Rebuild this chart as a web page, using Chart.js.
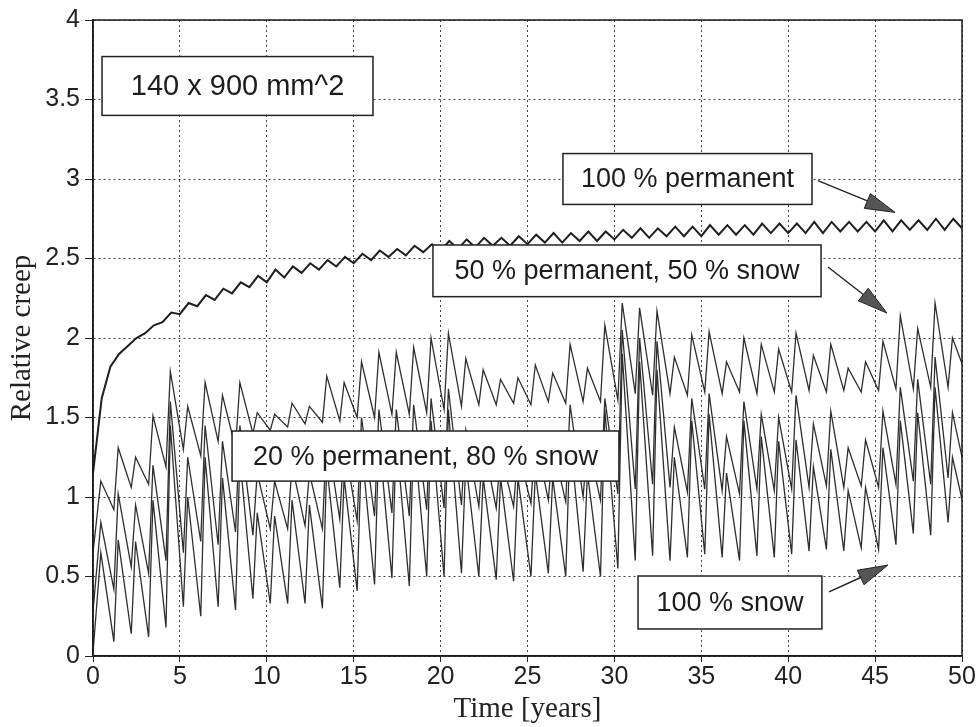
<!DOCTYPE html>
<html>
<head>
<meta charset="utf-8">
<script src="https://cdn.jsdelivr.net/npm/chart.js@4.4.1/dist/chart.umd.min.js"></script>
<style>
  html, body { margin: 0; padding: 0; background: #fff; }
  #wrap { width: 979px; height: 727px; }
</style>
</head>
<body>
<div id="wrap"><canvas id="creep" width="979" height="727"></canvas></div>
<script>
// values read per year: spike value and the low point the year decays to
const xTicks = [0, 5, 10, 15, 20, 25, 30, 35, 40, 45, 50];
const yTicks = [0, 0.5, 1, 1.5, 2, 2.5, 3, 3.5, 4];

const permStart = 1.15;
const permHalf = [1.62,1.90,2.00,2.08,2.16,2.22,2.27,2.31,2.35,2.39,2.43,2.45,2.47,2.49,2.51,2.53,2.55,2.56,2.58,2.59,
  2.61,2.62,2.63,2.63,2.64,2.65,2.66,2.66,2.67,2.67,2.68,2.69,2.69,2.70,2.70,2.71,2.71,2.71,2.72,2.72,
  2.72,2.73,2.73,2.73,2.73,2.74,2.74,2.74,2.75,2.75];
const permEnd = [1.82,1.95,2.03,2.10,2.15,2.20,2.24,2.28,2.32,2.35,2.38,2.41,2.43,2.45,2.47,2.49,2.51,2.52,2.54,2.55,
  2.56,2.57,2.58,2.58,2.59,2.60,2.60,2.61,2.61,2.62,2.63,2.63,2.64,2.64,2.64,2.65,2.65,2.65,2.66,2.66,
  2.66,2.66,2.67,2.67,2.67,2.67,2.68,2.68,2.68,2.69];

const fiftyStart = 0.65;
const fiftyPeak = [1.10,1.31,1.25,1.51,1.79,1.57,1.72,1.64,1.72,1.53,1.52,1.59,1.57,1.76,1.72,1.85,1.91,1.91,1.94,2.00,
  2.03,1.87,1.80,1.74,1.75,1.83,1.78,1.96,1.81,2.08,2.22,2.19,2.17,1.88,2.02,2.04,1.85,2.00,1.96,1.93,
  2.03,1.89,1.96,1.81,1.85,1.98,2.14,2.06,2.22,2.00];
const fiftyLow = [0.92,1.06,1.08,1.19,1.30,1.26,1.35,1.31,1.40,1.42,1.44,1.46,1.47,1.48,1.50,1.50,1.52,1.52,1.53,1.55,
  1.57,1.58,1.58,1.59,1.58,1.60,1.59,1.60,1.60,1.61,1.65,1.64,1.65,1.64,1.66,1.65,1.66,1.65,1.66,1.66,
  1.67,1.66,1.67,1.66,1.67,1.68,1.68,1.69,1.69,1.78];

const twentyStart = 0.28;
const twentyPeak = [0.84,1.02,0.95,1.20,1.60,1.25,1.45,1.35,1.45,1.15,1.10,1.20,1.15,1.40,1.35,1.50,1.55,1.55,1.58,1.62,
  1.68,1.42,1.35,1.28,1.30,1.38,1.33,1.58,1.35,1.62,2.05,2.00,1.98,1.44,1.62,1.65,1.38,1.60,1.52,1.50,
  1.64,1.46,1.54,1.31,1.36,1.54,1.69,1.74,1.88,1.53];
const twentyLow = [0.42,0.56,0.52,0.60,0.65,0.72,0.70,0.78,0.76,0.80,0.80,0.82,0.80,0.86,0.85,0.88,0.90,0.88,0.92,0.93,
  0.95,0.94,0.93,0.94,0.96,0.98,0.97,1.00,0.98,1.02,1.05,1.08,1.06,1.03,1.05,1.04,1.02,1.05,1.04,1.05,
  1.06,1.07,1.06,1.07,1.06,1.08,1.10,1.08,1.12,1.15];

const snowStart = 0.02;
const snowPeak = [0.65,0.73,0.72,0.98,1.45,1.00,1.25,1.12,1.25,0.90,0.88,0.98,0.95,1.20,1.12,1.32,1.38,1.38,1.42,1.48,
  1.55,1.22,1.12,1.12,1.12,1.15,1.12,1.38,1.15,1.55,1.90,1.85,1.80,1.25,1.48,1.52,1.15,1.48,1.38,1.35,
  1.36,1.19,1.30,1.04,1.06,1.31,1.48,1.53,1.69,1.25];
const snowLow = [0.09,0.14,0.12,0.18,0.31,0.25,0.31,0.29,0.36,0.33,0.33,0.33,0.30,0.43,0.41,0.45,0.49,0.44,0.50,0.50,
  0.52,0.50,0.48,0.47,0.50,0.52,0.50,0.53,0.50,0.55,0.60,0.63,0.60,0.62,0.64,0.62,0.60,0.63,0.62,0.64,
  0.66,0.67,0.66,0.68,0.67,0.70,0.77,0.76,0.84,0.89];

// text boxes and arrows, in data units
const notes = [
  { text: "140 x 900 mm^2", x0: 0.52, x1: 16.11, y0: 3.40, y1: 3.77, size: 29 },
  { text: "100 % permanent", x0: 27.04, x1: 41.37, y0: 2.84, y1: 3.16, size: 27 },
  { text: "50 % permanent, 50 % snow", x0: 19.56, x1: 41.89, y0: 2.26, y1: 2.585, size: 27 },
  { text: "20 % permanent, 80 % snow", x0: 8.0, x1: 30.26, y0: 1.10, y1: 1.415, size: 27 },
  { text: "100 % snow", x0: 31.36, x1: 41.94, y0: 0.17, y1: 0.503, size: 27 },
];
const arrows = [
  { from: [41.71, 2.99], to: [46.15, 2.79] },
  { from: [42.29, 2.447], to: [45.68, 2.157] },
  { from: [42.35, 0.403], to: [45.74, 0.572] },
];

function yearly(start, peaks, lows, peakAt, lowAt) {
  const pts = [{ x: 0, y: start }];
  peaks.forEach((p, i) => {
    pts.push({ x: i + peakAt, y: p });
    pts.push({ x: i + lowAt, y: lows[i] });
  });
  return pts;
}

const frameAndNotes = {
  id: "frameAndNotes",
  afterDatasetsDraw(chart) {
    const { ctx, chartArea: a, scales: { x, y } } = chart;
    ctx.save();
    ctx.strokeStyle = "#1a1a1a";
    ctx.lineWidth = 1.5;
    ctx.strokeRect(a.left, a.top, a.right - a.left, a.bottom - a.top);

    ctx.textAlign = "center";
    ctx.textBaseline = "middle";
    notes.forEach(n => {
      const l = x.getPixelForValue(n.x0), r = x.getPixelForValue(n.x1);
      const t = y.getPixelForValue(n.y1), b = y.getPixelForValue(n.y0);
      ctx.fillStyle = "#fff";
      ctx.fillRect(l, t, r - l, b - t);
      ctx.lineWidth = 1.5;
      ctx.strokeStyle = "#222";
      ctx.strokeRect(l, t, r - l, b - t);
      ctx.font = n.size + "px 'Liberation Sans', Arial, sans-serif";
      ctx.fillStyle = "#1c1c1c";
      ctx.fillText(n.text, (l + r) / 2, (t + b) / 2 + 1);
    });

    arrows.forEach(ar => {
      const x1 = x.getPixelForValue(ar.from[0]), y1 = y.getPixelForValue(ar.from[1]);
      const x2 = x.getPixelForValue(ar.to[0]), y2 = y.getPixelForValue(ar.to[1]);
      const ang = Math.atan2(y2 - y1, x2 - x1);
      const len = 30, half = 8;
      const bx = x2 - len * Math.cos(ang), by = y2 - len * Math.sin(ang);
      ctx.strokeStyle = "#222";
      ctx.lineWidth = 1.4;
      ctx.beginPath();
      ctx.moveTo(x1, y1);
      ctx.lineTo(bx, by);
      ctx.stroke();
      ctx.beginPath();
      ctx.moveTo(x2, y2);
      ctx.lineTo(bx + half * Math.sin(ang), by - half * Math.cos(ang));
      ctx.lineTo(bx - half * Math.sin(ang), by + half * Math.cos(ang));
      ctx.closePath();
      ctx.fillStyle = "#555";
      ctx.fill();
      ctx.lineWidth = 1;
      ctx.stroke();
    });
    ctx.restore();
  }
};

const tickFont = { family: "'Liberation Sans', Arial, sans-serif", size: 25 };
const titleFont = { family: "'Liberation Serif', 'Times New Roman', serif", size: 29 };

new Chart(document.getElementById("creep"), {
  type: "line",
  data: {
    datasets: [
      { label: "100 % permanent", data: yearly(permStart, permHalf, permEnd, 0.5, 1.0), borderColor: "#1e1e1e", borderWidth: 2 },
      { label: "50 % permanent, 50 % snow", data: yearly(fiftyStart, fiftyPeak, fiftyLow, 0.45, 1.2), borderColor: "#2e2e2e", borderWidth: 1.3 },
      { label: "20 % permanent, 80 % snow", data: yearly(twentyStart, twentyPeak, twentyLow, 0.45, 1.2), borderColor: "#2e2e2e", borderWidth: 1.3 },
      { label: "100 % snow", data: yearly(snowStart, snowPeak, snowLow, 0.45, 1.2), borderColor: "#2e2e2e", borderWidth: 1.3 },
    ],
  },
  options: {
    responsive: false,
    animation: false,
    devicePixelRatio: 1,
    layout: { padding: { top: 20, right: 17, left: 0, bottom: 0 } },
    elements: { point: { radius: 0 }, line: { tension: 0 } },
    plugins: { legend: { display: false }, tooltip: { enabled: false } },
    scales: {
      x: {
        type: "linear", min: 0, max: 50,
        afterBuildTicks: s => { s.ticks = xTicks.map(v => ({ value: v })); },
        afterFit: s => { s.height = 71; },
        ticks: { font: tickFont, color: "#222", padding: 0, maxRotation: 0, callback: v => String(v) },
        grid: { color: "#444", lineWidth: 1, tickColor: "#222", tickLength: 6 },
        border: { color: "#222", width: 1.5, dash: [2, 3] },
        title: { display: true, text: "Time [years]", font: titleFont, color: "#222", padding: { top: 0, bottom: 0 } },
      },
      y: {
        min: 0, max: 4,
        afterBuildTicks: s => { s.ticks = yTicks.map(v => ({ value: v })); },
        afterFit: s => { s.width = 93; },
        ticks: { font: tickFont, color: "#222", padding: 5, callback: v => String(v) },
        grid: { color: "#444", lineWidth: 1, tickColor: "#222", tickLength: 8 },
        border: { color: "#222", width: 1.5, dash: [2, 3] },
        title: { display: true, text: "Relative creep", font: titleFont, color: "#222", padding: { top: 5, bottom: 0 } },
      },
    },
  },
  plugins: [frameAndNotes],
});
</script>
</body>
</html>
